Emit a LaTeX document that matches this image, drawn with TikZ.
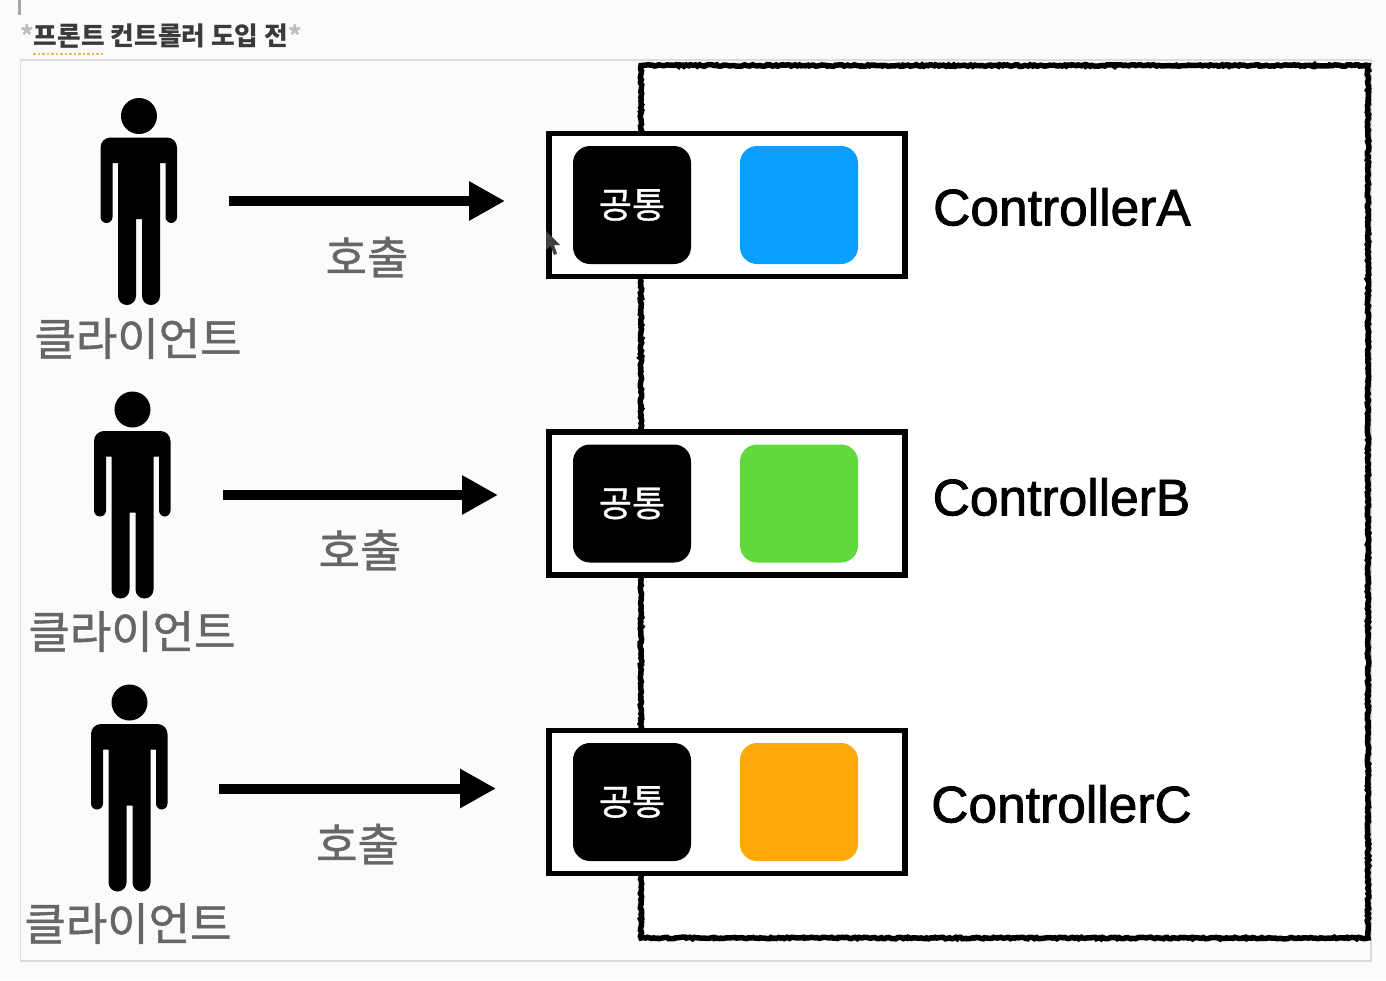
\documentclass[tikz,border=0pt]{standalone}
\usepackage{fontspec}
\setmainfont{Liberation Sans}
\newfontfamily\kr{Noto Sans CJK KR}
\newfontfamily\krmedium[FakeBold = 1]{Noto Sans CJK KR}
\newfontfamily\ctrlfont[FakeBold = 1.6]{Liberation Sans}
\usetikzlibrary{arrows.meta, decorations.pathmorphing}
\definecolor{pagegray}{HTML}{FBFBFB}
\definecolor{framegray}{HTML}{DCDCDC}
\definecolor{labelgray}{HTML}{666666}
\definecolor{titlegray}{HTML}{3A3A3A}
\definecolor{stargray}{HTML}{BDBDBD}
\definecolor{blueblock}{HTML}{0A9FFF}
\definecolor{greenblock}{HTML}{5FD93C}
\definecolor{orangeblock}{HTML}{FFA908}
\definecolor{squiggle}{HTML}{E8B85A}

\begin{document}
\begin{tikzpicture}[x = 1pt, y = -1pt,
    ctrlbox/.style = {draw, fill = white, line width = 5.2pt, minimum width = 356pt, minimum height = 143pt, inner sep = 0pt},
    block/.style = {rounded corners = 17pt, minimum size = 118pt, inner sep = 0pt},
    common/.style = {block, fill = black, text = white, font = \krmedium\fontsize{36}{36}\selectfont},
    client/.style = {text = labelgray, inner sep = 0pt, font = \krmedium\fontsize{45}{45}\selectfont},
    call/.style = {text = labelgray, inner sep = 0pt, font = \krmedium\fontsize{45}{45}\selectfont},
    ctrlname/.style = {inner sep = 0pt, font = \ctrlfont\fontsize{51.5}{51.5}\selectfont},
    callarrow/.style = {-{Triangle[length = 36pt, width = 37pt]}, line width = 10pt},
    person/.pic = {
      \fill (0,0) circle (18);
      \fill[rounded corners = 10pt] (-20,21.5) -- (38,21.5) [rounded corners = 6pt] -- (38,107) -- (26.5,107) [sharp corners] -- (26.5,47) -- (21,47) [rounded corners = 9pt] -- (21,189) -- (3,189) [sharp corners] -- (3,103) -- (-3,103) [rounded corners = 9pt] -- (-3,189) -- (-21,189) [sharp corners] -- (-21,47) -- (-26.5,47) [rounded corners = 6pt] -- (-26.5,107) -- (-38.5,107) [rounded corners = 10pt] -- (-38.5,21.5) -- cycle;
    }]
  \useasboundingbox (0,0) rectangle (1386,980);
  \fill[pagegray] (0,0) rectangle (1386,980);
  \fill[gray!70] (18,0) rectangle (21,15);

  % heading
  \node (title) at (161,36) [inner sep = 0pt, text = titlegray, font = \kr\bfseries\fontsize{25.7}{25.7}\selectfont] {{\color{stargray}*}프론트 컨트롤러 도입 전{\color{stargray}*}};
  \draw[squiggle, line width = 2.5pt, dotted] (33,54) -- (105,54);

  \draw[framegray, line width = 1.5pt] (20.5,60) rectangle (1371,961);

  % server area
  \draw[fill = white, line width = 5.5pt, decorate, decoration = {random steps, segment length = 2pt, amplitude = 0.8pt}] (641,65.5) rectangle (1368,938);

  % controllers
  \node[ctrlbox] (boxa) at (727,205) {};
  \node[ctrlbox] (boxb) at (727,503.5) {};
  \node[ctrlbox] (boxc) at (727,802) {};

  \node[common] (commona) at (632,205) {공통};
  \node[common] (commonb) at (632,503.5) {공통};
  \node[common] (commonc) at (632,802) {공통};

  \node[block, fill = blueblock] (blocka) at (799,205) {};
  \node[block, fill = greenblock] (blockb) at (799,503.5) {};
  \node[block, fill = orangeblock] (blockc) at (799,802) {};

  \node[ctrlname] (namea) at (1062,207) {ControllerA};
  \node[ctrlname] (nameb) at (1061.5,497) {ControllerB};
  \node[ctrlname] (namec) at (1061.5,804) {ControllerC};

  % clients
  \pic (persona) at (139,116) {person};
  \pic (personb) at (132.5,409.5) {person};
  \pic (personc) at (129.5,702.5) {person};

  \node[client] (clienta) at (138,338.5) {클라이언트};
  \node[client] (clientb) at (132,631.5) {클라이언트};
  \node[client] (clientc) at (128,923.5) {클라이언트};

  % calls
  \coordinate (froma) at (229,201);
  \coordinate (toa) at (505,201);
  \coordinate (fromb) at (223,495);
  \coordinate (tob) at (498,495);
  \coordinate (fromc) at (219,788.5);
  \coordinate (toc) at (496,788.5);

  \draw[callarrow] (froma) -- (toa);
  \draw[callarrow] (fromb) -- (tob);
  \draw[callarrow] (fromc) -- (toc);

  \node[call] (calla) at (367,257) {호출};
  \node[call] (callb) at (360,550) {호출};
  \node[call] (callc) at (357.5,844) {호출};

  % pointer
  \fill[black!75] (546,231) -- (546,250) -- (550.5,246) -- (554,255) -- (557,253.5) -- (554,245) -- (560,245) -- cycle;
\end{tikzpicture}
\end{document}
